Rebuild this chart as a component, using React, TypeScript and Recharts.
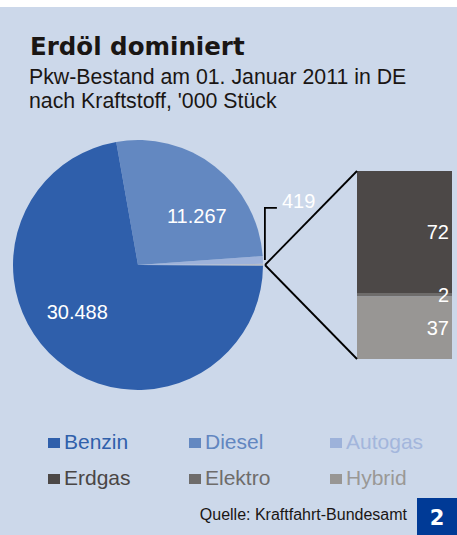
import { PieChart, Pie, Cell, BarChart, Bar, XAxis, YAxis, LabelList } from 'recharts';

// Pkw-Bestand 01.01.2011, '000 Stück
const mainNames = ['Benzin', 'Diesel', 'Autogas'];
const mainValues = [30488, 11267, 419];
const otherNames = ['Erdgas', 'Elektro', 'Hybrid'];
const otherValues = [72, 2, 37];

const mainColors = ['#2f5fab', '#6388c1', '#9db2da'];
const otherColors = ['#4c4847', '#6e6c6b', '#989694'];
const otherSliceColor = '#b7bcc6';

const FONT = '"Liberation Sans", Arial, sans-serif';
const BG = '#ccd8ea';

const PIE_CX = 138;
const PIE_CY = 265;
const PIE_R = 125;
const BAR_LEFT = 357;
const BAR_TOP = 171;
const BAR_W = 95;
const BAR_H = 188;

const otherTotal = otherValues.reduce((a, b) => a + b, 0);

// pie goes counter-clockwise from 3 o'clock: Andere, Autogas, Diesel, Benzin
const pieData = [
  { name: 'Andere', value: otherTotal, color: otherSliceColor },
  ...mainNames.map((n, i) => ({ name: n, value: mainValues[i], color: mainColors[i] })).reverse(),
];

const barRow: Record<string, string | number> = { name: 'Andere' };
otherNames.forEach((n, i) => (barRow[n] = otherValues[i]));

const fmt = (v: number) => String(v).replace(/\B(?=(\d{3})+(?!\d))/g, '.');
const RAD = Math.PI / 180;

const renderPieLabel = (props: any) => {
  const { cx, cy, midAngle, outerRadius, name, value } = props;
  if (name === 'Andere') return null;
  if (name === 'Autogas') {
    const x0 = cx + outerRadius * Math.cos(-midAngle * RAD) + 2;
    const y0 = cy + outerRadius * Math.sin(-midAngle * RAD);
    const y1 = y0 - 52;
    return (
      <g>
        <polyline points={`${x0},${y0} ${x0},${y1} ${x0 + 12},${y1}`} fill="none" stroke="#000" strokeWidth={1.8} />
        <text x={x0 + 17} y={y1 - 7} fill="#fff" fontSize={20} fontFamily={FONT} dominantBaseline="central">
          {fmt(value)}
        </text>
      </g>
    );
  }
  const a = (midAngle - 12) * RAD;
  const r = outerRadius * 0.615;
  return (
    <text
      x={cx + r * Math.cos(-a)}
      y={cy + r * Math.sin(-a)}
      fill="#fff"
      fontSize={20}
      fontFamily={FONT}
      textAnchor="middle"
      dominantBaseline="central"
    >
      {fmt(value)}
    </text>
  );
};

const legendItems = [
  ...mainNames.map((n, i) => ({ name: n, color: mainColors[i] })),
  ...otherNames.map((n, i) => ({ name: n, color: otherColors[i] })),
];
const legendText = ['#3060ab', '#6286c0', '#a3b6dc', '#4a4645', '#6e6c6b', '#9a9896'];

export default function App() {
  return (
    <div style={{ position: 'absolute', left: 0, top: 0, width: 457, height: 535, background: '#fff', overflow: 'hidden' }}>
      <div style={{ position: 'absolute', left: 0, top: 7, width: 457, height: 528, background: BG }} />

      <div style={{ position: 'absolute', left: 0, top: 0 }}>
        <PieChart width={457} height={535} margin={{ top: 0, right: 0, bottom: 0, left: 0 }}>
          <Pie
            data={pieData}
            dataKey="value"
            nameKey="name"
            cx={PIE_CX}
            cy={PIE_CY}
            outerRadius={PIE_R}
            startAngle={-0.4}
            endAngle={359.6}
            stroke="none"
            label={renderPieLabel}
            labelLine={false}
            isAnimationActive={false}
          >
            {pieData.map((d) => (
              <Cell key={d.name} fill={d.color} />
            ))}
          </Pie>
        </PieChart>
      </div>

      <div style={{ position: 'absolute', left: BAR_LEFT, top: BAR_TOP }}>
        <BarChart width={BAR_W} height={BAR_H} data={[barRow]} margin={{ top: 0, right: 0, bottom: 0, left: 0 }} barCategoryGap={0}>
          <XAxis dataKey="name" hide />
          <YAxis hide domain={[0, otherTotal]} />
          {[...otherNames].reverse().map((n) => {
            const i = otherNames.indexOf(n);
            return (
              <Bar key={n} dataKey={n} stackId="a" fill={otherColors[i]} isAnimationActive={false}>
                <LabelList dataKey={n} position="insideRight" offset={3} fill="#fff" fontSize={20} fontFamily={FONT} />
              </Bar>
            );
          })}
        </BarChart>
      </div>

      <svg width={457} height={535} style={{ position: 'absolute', left: 0, top: 0, pointerEvents: 'none' }}>
        <line x1={PIE_CX + PIE_R + 2} y1={PIE_CY} x2={BAR_LEFT} y2={BAR_TOP} stroke="#000" strokeWidth={1.8} />
        <line x1={PIE_CX + PIE_R + 2} y1={PIE_CY} x2={BAR_LEFT} y2={BAR_TOP + BAR_H} stroke="#000" strokeWidth={1.8} />

        <text x={30} y={55} fontFamily='"DejaVu Sans", sans-serif' fontWeight="bold" fontSize={24.5} fill="#1a1614">
          Erdöl dominiert
        </text>
        <text x={29} y={84} fontFamily={FONT} fontSize={21.3} fill="#1a1614">
          Pkw-Bestand am 01. Januar 2011 in DE
        </text>
        <text x={29} y={108} fontFamily={FONT} fontSize={21.3} fill="#1a1614">
          nach Kraftstoff, '000 Stück
        </text>

        {legendItems.map((it, i) => {
          const col = i % 3;
          const row = Math.floor(i / 3);
          const x = 48 + col * 141;
          const y = 449 + row * 36;
          return (
            <g key={it.name}>
              <rect x={x} y={y - 11} width={12} height={10} fill={it.color} />
              <text x={x + 16} y={y} fontFamily={FONT} fontSize={21} fill={legendText[i]}>
                {it.name}
              </text>
            </g>
          );
        })}

        <text x={407} y={520} textAnchor="end" fontFamily={FONT} fontSize={16} fill="#1a1614">
          Quelle: Kraftfahrt-Bundesamt
        </text>
        <rect x={417} y={498} width={40} height={37} fill="#003a96" />
        <text x={437} y={525} textAnchor="middle" fontFamily='"DejaVu Sans", sans-serif' fontWeight="bold" fontSize={21} fill="#fff">
          2
        </text>
      </svg>
    </div>
  );
}
